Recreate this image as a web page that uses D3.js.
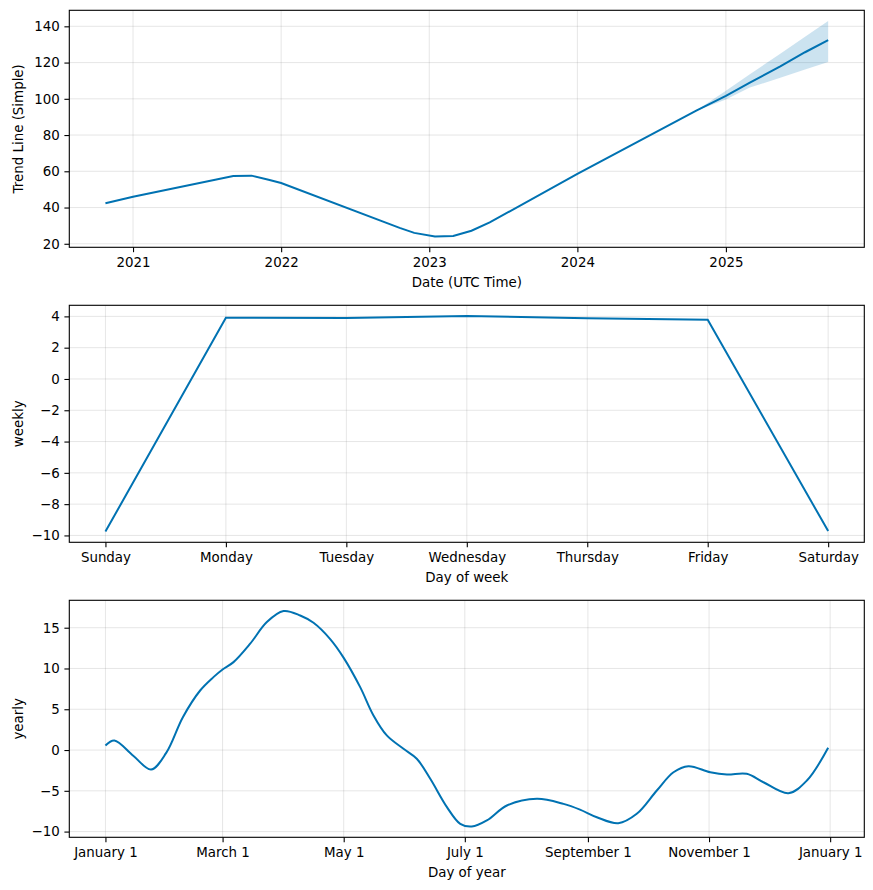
<!DOCTYPE html>
<html>
<head>
<meta charset="utf-8">
<script src="https://cdn.jsdelivr.net/npm/d3@7"></script>
<style>
  html, body { margin: 0; padding: 0; background: #fff; }
  svg { display: block; font-family: "DejaVu Sans", sans-serif; }
</style>
</head>
<body>
<svg id="chart" width="873" height="890"></svg>
<script>
// ---------- DATA ----------
// Trend (history + forecast)
const trendDates = ["2020-10-25","2021-01-01","2021-09-05","2021-10-20","2021-12-01","2022-01-01","2022-10-20","2022-11-25","2023-01-15","2023-03-01","2023-04-15","2023-05-30","2024-01-01","2024-10-20","2025-01-01","2025-03-01","2025-05-15","2025-07-15","2025-09-10"];
const trendValues = [42.4, 46.0, 57.4, 57.6, 55.3, 53.5, 28.8, 26.0, 24.0, 24.3, 27.2, 31.8, 58.6, 93.5, 101.6, 108.9, 117.9, 125.7, 132.4];
// Uncertainty band of the forecast
const bandDates = ["2024-10-20","2025-01-01","2025-03-01","2025-05-15","2025-07-15","2025-09-10"];
const bandUpper = [93.6, 104.5, 113.6, 124.8, 134.2, 142.9];
const bandLower = [93.4, 99.6, 106.2, 111.6, 116.2, 120.3];
const trendYTicks = [20, 40, 60, 80, 100, 120, 140];

// Weekly seasonality
const weekDays = ["Sunday","Monday","Tuesday","Wednesday","Thursday","Friday","Saturday"];
const weeklyValues = [-9.75, 3.91, 3.89, 4.02, 3.88, 3.78, -9.72];
const weeklyYTicks = [-10, -8, -6, -4, -2, 0, 2, 4];

// Yearly seasonality (day of year, value)
const yearDays = [0, 4.5, 14, 23, 30.6, 39, 47.7, 54.4, 59, 64.5, 72.9, 81.3, 89.7, 98.1, 104.8, 113.2, 120, 128.3, 135, 141.7, 150.1, 156.8, 163.6, 172, 178.7, 184.5, 192.1, 202.2, 217.3, 230.7, 239, 247.5, 258.3, 267.6, 277.7, 286.1, 293.6, 304.6, 313, 323, 331.4, 344, 353.3, 364];
const yearlyValues = [0.56, 1.17, -0.7, -2.39, -0.35, 4.03, 7.3, 8.94, 9.88, 10.78, 13.04, 15.69, 17.04, 16.5, 15.6, 13.6, 11.3, 7.71, 4.24, 1.79, 0.15, -1.07, -3.53, -7.0, -9.05, -9.38, -8.64, -6.8, -5.98, -6.6, -7.3, -8.24, -8.97, -7.82, -4.96, -2.72, -1.98, -2.72, -3.0, -2.92, -3.95, -5.29, -3.74, 0.28];
const yearTickDays = [0, 59, 120, 181, 243, 304, 365];
const yearTickLabels = ["January 1","March 1","May 1","July 1","September 1","November 1","January 1"];
const yearlyYTicks = [-10, -5, 0, 5, 10, 15];

// ---------- LAYOUT ----------
const left = 69.3, right = 864.3;
const panelTops = [10.3, 305.3, 600.3];
const panelH = 237;
const lineColor = "#0072B2";
const fontSize = 13.4;
const svg = d3.select("#chart");
const parse = d3.utcParse("%Y-%m-%d");

function pad(ext) {
  const s = ext[1] - ext[0];
  return [ext[0] - 0.05 * s, ext[1] + 0.05 * s];
}

function drawPanel(top, x, y, xTicks, xFormat, yTicks, xLabel, yLabel, drawData) {
  const g = svg.append("g");
  const bottom = top + panelH;
  // grid
  g.append("g").selectAll("line").data(xTicks).join("line")
    .attr("x1", d => x(d)).attr("x2", d => x(d))
    .attr("y1", top).attr("y2", bottom)
    .attr("stroke", "#808080").attr("stroke-opacity", 0.2).attr("stroke-width", 1);
  g.append("g").selectAll("line").data(yTicks).join("line")
    .attr("x1", left).attr("x2", right)
    .attr("y1", d => y(d)).attr("y2", d => y(d))
    .attr("stroke", "#808080").attr("stroke-opacity", 0.2).attr("stroke-width", 1);

  drawData(g);

  // axes
  const xAxis = d3.axisBottom(x).tickValues(xTicks).tickFormat(xFormat)
    .tickSize(4.9).tickPadding(5.5).tickSizeOuter(0);
  const yAxis = d3.axisLeft(y).tickValues(yTicks).tickFormat(d => d < 0 ? "\u2212" + Math.abs(d) : d)
    .tickSize(4.9).tickPadding(4.6).tickSizeOuter(0);
  const gx = g.append("g").attr("transform", `translate(0,${bottom})`).call(xAxis);
  const gy = g.append("g").attr("transform", `translate(${left},0)`).call(yAxis);
  [gx, gy].forEach(a => {
    a.select(".domain").remove();
    a.selectAll(".tick line").attr("stroke", "#000").attr("stroke-width", 1.1);
    a.selectAll(".tick text").attr("fill", "#000").style("font-size", fontSize + "px")
      .style("font-family", "'DejaVu Sans', sans-serif");
  });
  // frame
  g.append("rect").attr("x", left).attr("y", top)
    .attr("width", right - left).attr("height", panelH)
    .attr("fill", "none").attr("stroke", "#000").attr("stroke-width", 1.1);
  // labels
  g.append("text").attr("x", (left + right) / 2).attr("y", bottom + 35.3)
    .attr("text-anchor", "middle").attr("dominant-baseline", "central")
    .style("font-size", fontSize + "px").text(xLabel);
  g.append("text")
    .attr("transform", `translate(18.5,${top + panelH / 2}) rotate(-90)`)
    .attr("text-anchor", "middle").attr("dominant-baseline", "central")
    .style("font-size", fontSize + "px").text(yLabel);
}

// ---------- PANEL 1: trend ----------
(function () {
  const pts = trendDates.map((d, i) => ({ d: parse(d), v: trendValues[i] }));
  const band = bandDates.map((d, i) => ({ d: parse(d), lo: bandLower[i], hi: bandUpper[i] }));
  const top = panelTops[0];
  const xDom = pad(d3.extent(pts, p => +p.d));
  const x = d3.scaleUtc().domain(xDom.map(v => new Date(v))).range([left, right]);
  const allY = trendValues.concat(bandUpper, bandLower);
  const y = d3.scaleLinear().domain(pad(d3.extent(allY))).range([top + panelH, top]);
  const xTicks = [2021, 2022, 2023, 2024, 2025].map(yr => new Date(Date.UTC(yr, 0, 1)));
  drawPanel(top, x, y, xTicks, d3.utcFormat("%Y"), trendYTicks, "Date (UTC Time)", "Trend Line (Simple)", g => {
    g.append("path").datum(band)
      .attr("d", d3.area().x(p => x(p.d)).y0(p => y(p.lo)).y1(p => y(p.hi)))
      .attr("fill", lineColor).attr("fill-opacity", 0.2).attr("stroke", "none");
    g.append("path").datum(pts)
      .attr("d", d3.line().x(p => x(p.d)).y(p => y(p.v)))
      .attr("fill", "none").attr("stroke", lineColor).attr("stroke-width", 2);
  });
})();

// ---------- PANEL 2: weekly ----------
(function () {
  const top = panelTops[1];
  const idx = weekDays.map((_, i) => i);
  const x = d3.scaleLinear().domain(pad([0, weekDays.length - 1])).range([left, right]);
  const y = d3.scaleLinear().domain(pad(d3.extent(weeklyValues))).range([top + panelH, top]);
  drawPanel(top, x, y, idx, i => weekDays[i], weeklyYTicks, "Day of week", "weekly", g => {
    g.append("path").datum(idx)
      .attr("d", d3.line().x(i => x(i)).y(i => y(weeklyValues[i])))
      .attr("fill", "none").attr("stroke", lineColor).attr("stroke-width", 2);
  });
})();

// ---------- PANEL 3: yearly ----------
(function () {
  const top = panelTops[2];
  const pts = yearDays.map((d, i) => ({ d, v: yearlyValues[i] }));
  const x = d3.scaleLinear().domain(pad(d3.extent(yearDays))).range([left, right]);
  const y = d3.scaleLinear().domain(pad(d3.extent(yearlyValues))).range([top + panelH, top]);
  drawPanel(top, x, y, yearTickDays, (d, i) => yearTickLabels[i], yearlyYTicks, "Day of year", "yearly", g => {
    g.append("path").datum(pts)
      .attr("d", d3.line().curve(d3.curveCatmullRom.alpha(0.5)).x(p => x(p.d)).y(p => y(p.v)))
      .attr("fill", "none").attr("stroke", lineColor).attr("stroke-width", 2);
  });
})();
</script>
</body>
</html>
